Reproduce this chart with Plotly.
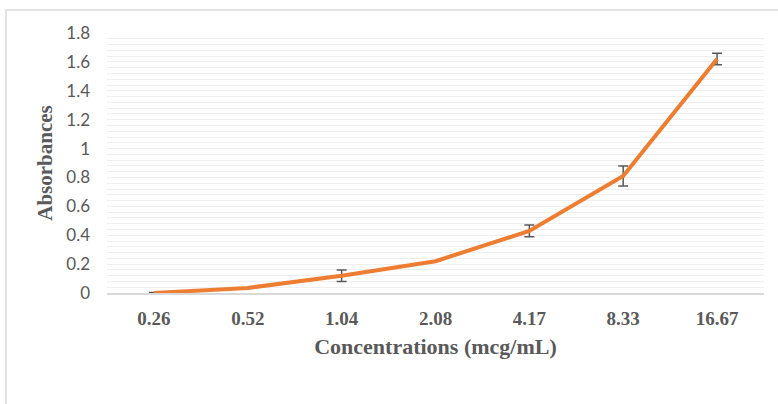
import plotly.graph_objects as go

concentrations = ["0.26", "0.52", "1.04", "2.08", "4.17", "8.33", "16.67"]
absorbances = [0.0, 0.035, 0.12, 0.22, 0.43, 0.81, 1.62]
errors = [0.003, 0.0, 0.04, 0.0, 0.04, 0.07, 0.04]

y_ticks = [0, 0.2, 0.4, 0.6, 0.8, 1.0, 1.2, 1.4, 1.6, 1.8]
y_tick_text = ["0", "0.2", "0.4", "0.6", "0.8", "1", "1.2", "1.4", "1.6", "1.8"]

fig = go.Figure()
fig.add_trace(go.Scatter(
    x=concentrations, y=absorbances, mode="lines",
    line=dict(color="#ED7D31", width=4),
    error_y=dict(type="data", array=errors, visible=True,
                 color="#595959", thickness=1.5, width=5),
    showlegend=False,
))

L, R, T, B = 107, 14, 33, 111
W, H = 778, 404
pw, ph = W - L - R, H - T - B

fig.update_layout(
    width=W, height=H,
    margin=dict(l=L, r=R, t=T, b=B, pad=0, autoexpand=False),
    paper_bgcolor="white", plot_bgcolor="white",
    xaxis=dict(
        type="category", range=[-0.5, len(concentrations) - 0.5],
        automargin=False, showgrid=False, showline=True,
        linecolor="#d9d9d9", linewidth=1.5, ticks="",
        tickfont=dict(family="Liberation Serif", size=19, color="#595959", weight="bold"),
        ticklabelstandoff=7,
        title=dict(text="<b>Concentrations (mcg/mL)</b>", standoff=11,
                   font=dict(family="Liberation Serif", size=22, color="#595959")),
        fixedrange=True,
    ),
    yaxis=dict(
        range=[0, 1.8], tickvals=y_ticks, ticktext=y_tick_text, automargin=False,
        showgrid=False, zeroline=False, showline=False, ticks="",
        tickfont=dict(family="Lato", size=17, color="#595959"),
        ticklabelstandoff=16,
        minor=dict(dtick=0.04, tick0=0, showgrid=True, gridcolor="#efefef", gridwidth=1.2),
        title=dict(text="<b>Absorbances</b>", standoff=7,
                   font=dict(family="Liberation Serif", size=21, color="#595959")),
        fixedrange=True,
    ),
    shapes=[dict(
        type="rect", xref="paper", yref="paper",
        x0=(6 - L) / pw, x1=(W + 5 - L) / pw,
        y0=(T + ph - (H + 5)) / ph, y1=(T + ph - 10) / ph,
        line=dict(color="#d9d9d9", width=1.5), fillcolor="rgba(0,0,0,0)", layer="below",
    )],
)

fig.write_html("out.html", config={"displayModeBar": False},
               post_script="document.body.style.margin='0';")
